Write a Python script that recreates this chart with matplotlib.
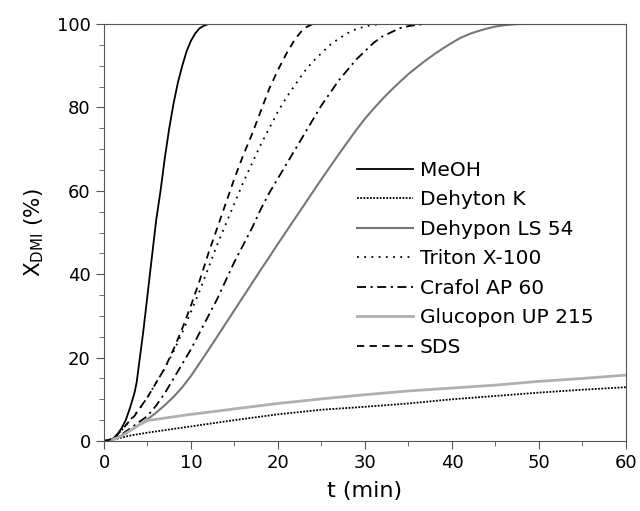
import numpy as np
import matplotlib
matplotlib.use('Agg')
import matplotlib.pyplot as plt
from matplotlib.ticker import MultipleLocator

# Conversion of DMI over time for each additive
t_meoh = [0, 0.5, 1, 1.5, 2, 2.5, 3, 3.5, 3.75, 4, 4.5, 5, 5.5, 6, 6.5, 7, 7.5, 8, 8.5, 9, 9.5, 10, 10.5, 11, 11.5, 12, 13, 60]
x_meoh = [0, 0.2, 0.5, 1.5, 3, 5, 8, 11.5, 14, 18, 26, 35, 44, 53, 60, 68, 75, 81, 86, 90, 93.5, 96, 97.8, 99, 99.6, 100, 100, 100]

t_dehyton = [0, 1, 2, 3, 5, 7, 10, 15, 20, 25, 30, 35, 40, 45, 50, 55, 60]
x_dehyton = [0, 0.3, 0.8, 1.3, 2.0, 2.6, 3.5, 5.0, 6.4, 7.5, 8.2, 9.0, 10.0, 10.8, 11.6, 12.3, 12.9]

t_dehypon = [0, 1, 2, 3, 4, 5, 6, 7, 8, 9, 10, 11, 12, 13, 14, 15, 16, 17, 18, 19, 20, 21, 22, 23, 24,
             25, 26, 27, 28, 29, 30, 31, 32, 33, 34, 35, 36, 37, 38, 39, 40, 41, 42, 43, 44, 45, 46, 47, 48, 60]
x_dehypon = [0, 0.4, 1.3, 2.5, 3.8, 5.2, 6.8, 8.6, 10.6, 12.9, 15.6, 18.7, 21.8, 25.0, 28.2, 31.4, 34.6, 37.8, 41.0,
             44.1, 47.3, 50.4, 53.5, 56.6, 59.7, 62.8, 65.8, 68.8, 71.7, 74.6, 77.3, 79.7, 82.0, 84.1, 86.1, 88.0,
             89.7, 91.3, 92.8, 94.2, 95.5, 96.7, 97.6, 98.3, 98.9, 99.4, 99.7, 99.9, 100, 100]

t_triton = [0, 1, 2, 3, 4, 5, 6, 7, 8, 9, 10, 11, 12, 13, 14, 15, 16, 17, 18, 19, 20, 21, 22, 23, 24, 25,
            26, 27, 28, 29, 30, 31, 32, 33, 60]
x_triton = [0, 0.5, 2.5, 5, 7.5, 10.5, 14, 17.5, 21.5, 26, 31, 36, 41.5, 47, 52, 57, 62, 66.5, 71, 75, 79, 82.5,
            85.5, 88.5, 91, 93, 95, 96.5, 97.8, 98.8, 99.4, 99.8, 100, 100, 100]

t_crafol = [0, 1, 2, 3, 4, 5, 6, 7, 8, 9, 10, 11, 12, 13, 14, 15, 16, 17, 18, 19, 20, 21, 22, 23, 24, 25,
            26, 27, 28, 29, 30, 31, 32, 33, 34, 35, 36, 37, 60]
x_crafol = [0, 0.3, 1.5, 3, 4.5, 6, 8.5, 11.5, 15, 18.5, 22, 26, 30, 34, 38.5, 43, 47, 51, 55.5, 59.5, 63, 66.5,
            70, 73.5, 77, 80.5, 83.5, 86.5, 89, 91.5, 93.5, 95.5, 97, 98, 99, 99.5, 99.8, 100, 100]

t_glucopon = [0, 1, 2, 3, 4, 5, 6, 8, 10, 12, 15, 20, 25, 30, 35, 40, 45, 50, 55, 60]
x_glucopon = [0, 0.3, 1.2, 2.5, 3.8, 4.9, 5.2, 5.8, 6.4, 6.9, 7.7, 9.0, 10.1, 11.1, 12.0, 12.7, 13.4, 14.3, 15.0, 15.8]

t_sds = [0, 1, 2, 3, 3.5, 4, 5, 6, 7, 8, 9, 10, 11, 12, 13, 14, 15, 16, 17, 18, 19, 20, 21, 22, 23, 24, 60]
x_sds = [0, 0.5, 2.5, 5, 6, 7.5, 10.5, 14, 17.5, 22, 27, 32.5, 38.5, 45, 51, 57, 63, 68.5, 73.5, 79, 84.5,
         89, 93, 96.5, 99, 100, 100]

plt.rcParams['font.family'] = 'DejaVu Sans'

fig = plt.figure(figsize=(6.4, 5.11), dpi=100)
ax = fig.add_axes([0.1625, 0.137, 0.8155, 0.816])

ax.plot(t_meoh, x_meoh, color='black', lw=1.3, label='MeOH')
ax.plot(t_dehyton, x_dehyton, color='black', lw=1.3, linestyle=(0, (1, 0.8)), label='Dehyton K')
ax.plot(t_dehypon, x_dehypon, color='#777777', lw=1.5, label='Dehypon LS 54')
ax.plot(t_triton, x_triton, color='black', lw=1.3, linestyle=(0, (1, 3)), label='Triton X-100')
ax.plot(t_crafol, x_crafol, color='black', lw=1.3, linestyle=(0, (5, 2.5, 1.2, 2.5)), label='Crafol AP 60')
ax.plot(t_glucopon, x_glucopon, color='#b0b0b0', lw=2, label='Glucopon UP 215')
ax.plot(t_sds, x_sds, color='black', lw=1.3, linestyle=(0, (4, 3)), label='SDS')

ax.set_xlim(0, 60)
ax.set_ylim(0, 100)
ax.xaxis.set_major_locator(MultipleLocator(10))
ax.xaxis.set_minor_locator(MultipleLocator(5))
ax.yaxis.set_major_locator(MultipleLocator(20))
ax.yaxis.set_minor_locator(MultipleLocator(5))
ax.tick_params(which='both', direction='out', color='#555555', labelsize=13)
ax.tick_params(which='major', length=6)
ax.tick_params(which='minor', length=3.5)
for sp in ax.spines.values():
    sp.set_color('#555555')

ax.set_xlabel('t (min)', fontsize=16, labelpad=6)
ax.set_ylabel(r'X$_{\mathregular{DMI}}$ (%)', fontsize=15.5, labelpad=8)

ax.legend(loc='upper left', bbox_to_anchor=(0.485, 0.672), frameon=False, fontsize=14.5,
          handlelength=2.75, handletextpad=0.35, labelspacing=0.52, borderpad=0, borderaxespad=0)

fig.savefig('out.png', dpi=100)
